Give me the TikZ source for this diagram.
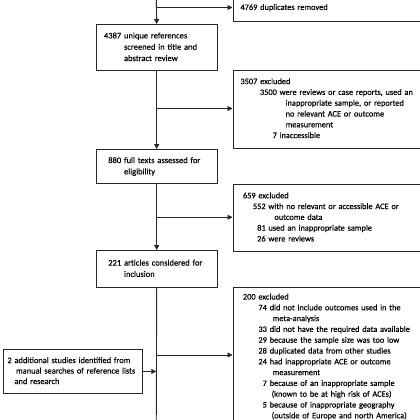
\documentclass[tikz,border=0pt]{standalone}
\usepackage{fontspec}
\setmainfont{Carlito}[FakeBold=0.3]
\usetikzlibrary{arrows.meta}
\newcommand\fsmain{\fontsize{8.5}{11.3}\selectfont}
\newcommand\fsexc{\fontsize{8.35}{10.8}\selectfont}
\newcommand\fsleft{\fontsize{8.4}{10.5}\selectfont}
\newcommand\nb[1]{\makebox[17.5pt][r]{#1}}
\begin{document}
\begin{tikzpicture}[x=1pt,y=-1pt,
  box/.style={draw=black!85, line width=0.9pt, inner ysep=0pt, anchor=north west, align=left},
  conn/.style={line width=0.9pt, draw=black!85},
  arr/.style={conn, -{Triangle[length=5pt,width=5pt]}}]
\useasboundingbox (0,0) rectangle (420,420);

% main column
\node[box, minimum width=120.5pt, text width=106pt, inner xsep=7.25pt, minimum height=46pt, font=\fsmain] (b4387) at (96,24)
  {\begin{tabular}{@{}r@{\ }l@{}}\nb{4387} & unique references\\ & screened in title and\\ & abstract review\end{tabular}};
\node[box, minimum width=120.5pt, text width=106pt, inner xsep=7.25pt, minimum height=34pt, font=\fsmain] (b880) at (96,149)
  {\begin{tabular}{@{}r@{\ }l@{}}\nb{880} & full texts assessed for\\ & eligibility\end{tabular}};
\node[box, minimum width=120.5pt, text width=106pt, inner xsep=7.25pt, minimum height=37pt, font=\fsmain] (b221) at (96,250)
  {\begin{tabular}{@{}r@{\ }l@{}}\nb{221} & articles considered for\\ & inclusion\end{tabular}};

% left box
\node[box, minimum width=134.5pt, text width=131pt, inner xsep=4pt, minimum height=44pt, font=\fsleft] (bleft) at (3,349)
  {\begin{tabular}{@{}r@{\ }l@{}}2 & additional studies identified from\\ & \hspace{1.5pt}manual searches of reference lists\\ & and research\end{tabular}};

% exclusion boxes
\node[box, minimum width=186.5pt, text width=178.5pt, inner xsep=7.5pt, minimum height=28.5pt, font=\fsexc] (bdup) at (232.5,-7)
  {4769 duplicates removed};
\node[box, minimum width=186.5pt, text width=178.5pt, inner xsep=7.5pt, minimum height=78pt, font=\fsexc] (b3507) at (232.5,69.5)
  {\begin{tabular}{@{\hspace{19.5pt}}r@{\ }l@{}}\multicolumn{2}{@{}l@{}}{3507 excluded}\\
   3500 & were reviews or case reports, used an\\
   & \hspace{6pt}inappropriate sample, or reported\\
   & \hspace{6pt}no relevant ACE or outcome\\
   & \hspace{6pt}measurement\\
   7 & inaccessible\end{tabular}};
\node[box, minimum width=186.5pt, text width=178.5pt, inner xsep=10pt, minimum height=67.5pt, font=\fsexc] (b659) at (232.5,183.5)
  {\begin{tabular}{@{\hspace{10pt}}r@{\ }l@{}}\multicolumn{2}{@{}l@{}}{659 excluded}\\
   552 & with no relevant or accessible ACE or\\
   & \hspace{6pt}outcome data\\
   81 & used an inappropriate sample\\
   26 & were reviews\end{tabular}};
\node[box, minimum width=186.5pt, text width=178.5pt, inner xsep=10pt, inner ysep=5pt, font=\fsexc] (b200) at (232.5,286.5)
  {\begin{tabular}{@{\hspace{15.5pt}}r@{\ }l@{}}\multicolumn{2}{@{}l@{}}{200 excluded}\\
   74 & did not include outcomes used in the\\
   & \hspace{3pt}meta-analysis\\
   33 & did not have the required data available\\
   29 & because the sample size was too low\\
   28 & duplicated data from other studies\\
   24 & had inappropriate ACE or outcome\\
   & \hspace{3pt}measurement\\
   7 & because of an inappropriate sample\\
   & \hspace{2pt}(known to be at high risk of ACEs)\\
   5 & because of inappropriate geography\\
   & \hspace{2pt}(outside of Europe and north America)\\
   & \end{tabular}};

% trunk
\coordinate (t0) at (156.25,-3);
\coordinate (t9) at (156.25,430);
\coordinate (j1) at (156.25,7.5);
\coordinate (j2) at (156.25,108.5);
\coordinate (j3) at (156.25,217.25);
\coordinate (j4) at (156.25,355);
\draw[arr] (t0) -- (b4387.north);
\draw[arr] (b4387.south) -- (b880.north);
\draw[arr] (b880.south) -- (b221.north);
\draw[conn] (b221.south) -- (t9);
\draw[arr] (j1) -- (j1 -| bdup.west);
\draw[arr] (j2) -- (j2 -| b3507.west);
\draw[arr] (j3) -- (j3 -| b659.west);
\draw[arr] (j4) -- (j4 -| b200.west);
\draw[arr] (bleft.east) -- (bleft.east -| t0);
\end{tikzpicture}
\end{document}
